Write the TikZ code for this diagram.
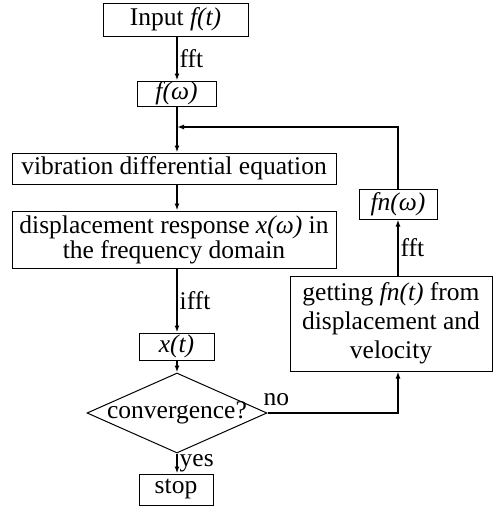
\documentclass[tikz,border=0pt]{standalone}
\usepackage{fontspec}
\setmainfont{Liberation Serif}
\usetikzlibrary{shapes.geometric,arrows.meta}
\begin{document}
\begin{tikzpicture}[x=1pt,y=-1pt,
  every node/.style={font=\fontsize{25.5}{26}\selectfont},
  box/.style={draw,line width=1pt,inner sep=0pt,align=center},
  arr/.style={line width=1.4pt,-{Latex[length=7pt,width=5pt]}},
  lbl/.style={inner sep=2pt}]
\useasboundingbox (0,0) rectangle (502,506);
\coordinate (j) at (177,127);
\coordinate (c1) at (398,127);
\coordinate (c2) at (398,413);
\node[box,minimum width=145pt,minimum height=33pt] (input) at (175.5,19.5) {Input \textit{f(t)}};
\node[box,minimum width=79pt,minimum height=25pt] (fw) at (176.5,93.5) {\textit{f(ω)}};
\node[box,minimum width=324pt,minimum height=31pt] (vib) at (174,168.5) {vibration differential equation};
\node[box,minimum width=324pt,minimum height=57pt,font=\fontsize{25.5}{25}\selectfont] (disp) at (174,239.5) {displacement response \textit{x(ω)} in\\the frequency domain};
\node[box,minimum width=75pt,minimum height=27pt] (xt) at (176.5,346.5) {\textit{x(t)}};
\node[diamond,draw,line width=1pt,inner sep=0pt,minimum width=180pt,minimum height=80pt] (conv) at (177,413) {};
\node[inner sep=0pt] (convt) at (conv.center) {convergence?};
\node[box,minimum width=74pt,minimum height=31pt] (stop) at (176,489.5) {stop};
\node[box,minimum width=78pt,minimum height=30pt] (fnw) at (398,204) {\textit{fn(ω)}};
\node[box,minimum width=202pt,minimum height=95pt,font=\fontsize{25.5}{29}\selectfont] (get) at (391,323.5) {getting \textit{fn(t)} from\\displacement and\\velocity};
\draw[arr] (input.south -| j) -- node[lbl,right] {fft} (fw.north -| j);
\draw[arr] (fw.south -| j) -- (vib.north -| j);
\draw[arr] (fnw.north) -- (c1) -- (j);
\draw[arr] (vib.south -| j) -- (disp.north -| j);
\draw[arr] (disp.south -| j) -- node[lbl,right] {ifft} (xt.north -| j);
\draw[arr] (xt.south -| j) -- (conv.north);
\draw[arr] (conv.south) -- node[lbl,right] {yes} (stop.north -| j);
\draw[arr] (conv.east) -- (c2) -- (get.south -| c2);
\node[lbl,anchor=south west] (no) at ([xshift=-6pt,yshift=5pt]conv.east) {no};
\draw[arr] (get.north -| fnw.south) -- node[lbl,right] {fft} (fnw.south);
\end{tikzpicture}
\end{document}
